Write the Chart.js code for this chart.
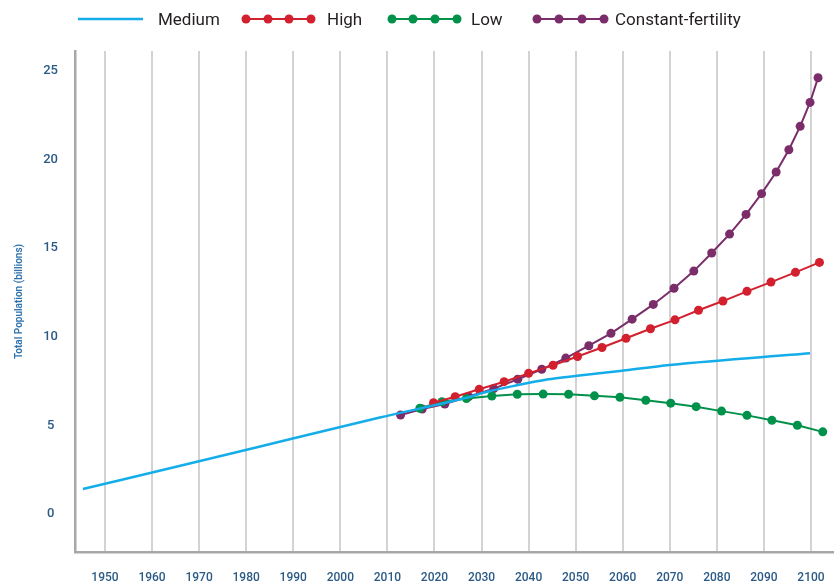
<!DOCTYPE html>
<html>
<head>
<meta charset="utf-8">
<script src="https://cdn.jsdelivr.net/npm/chart.js@4.4.1/dist/chart.umd.min.js"></script>
<style>
  html, body { margin: 0; padding: 0; background: #fff; }
  #wrap { width: 834px; height: 586px; }
</style>
</head>
<body>
<div id="wrap"><canvas id="myChart"></canvas></div>
<script>
// Seriernas namn och färger, i samma ordning som legenden.
const seriesNames = ['Medium', 'High', 'Low', 'Constant-fertility'];
const seriesColors = ['#14ade9', '#d3202f', '#00914a', '#7b2d6a'];

// Axlarnas tick-värden.
const xTicks = [1950, 1960, 1970, 1980, 1990, 2000, 2010, 2020, 2030, 2040, 2050, 2060, 2070, 2080, 2090, 2100];
const yTicks = [0, 5, 10, 15, 20, 25];

// Medium - en jämn linje utan punkter.
const mediumYears = [1945.3, 1970.2, 1989.9, 2008.4, 2026.1, 2031.8, 2036.7, 2043.9, 2050.3, 2059.4, 2070.0, 2099.8];
const mediumValues = [1.41, 2.99, 4.26, 5.45, 6.52, 6.94, 7.22, 7.59, 7.80, 8.07, 8.41, 9.07];

// High.
const highYears = [2019.8, 2024.4, 2029.5, 2034.8, 2040.0, 2045.2, 2050.4, 2055.6, 2060.7, 2065.9, 2071.1, 2076.1, 2081.3, 2086.4, 2091.5, 2096.7, 2101.8];
const highValues = [6.28, 6.62, 7.04, 7.47, 7.94, 8.40, 8.89, 9.40, 9.92, 10.46, 10.96, 11.50, 12.02, 12.57, 13.09, 13.64, 14.20];

// Low.
const lowYears = [2016.9, 2021.6, 2026.8, 2032.2, 2037.6, 2043.1, 2048.5, 2054.0, 2059.4, 2064.9, 2070.2, 2075.6, 2081.0, 2086.4, 2091.7, 2097.1, 2102.5];
const lowValues = [5.97, 6.34, 6.52, 6.66, 6.76, 6.77, 6.76, 6.67, 6.59, 6.42, 6.26, 6.06, 5.81, 5.57, 5.29, 5.01, 4.64];

// Constant-fertility.
const constantYears = [2012.8, 2017.4, 2022.2, 2027.3, 2032.6, 2037.7, 2042.8, 2047.9, 2052.8, 2057.5, 2062.0, 2066.5, 2070.9, 2075.1, 2078.9, 2082.7, 2086.2, 2089.5, 2092.6, 2095.3, 2097.7, 2099.8, 2101.5];
const constantValues = [5.59, 5.93, 6.21, 6.63, 7.08, 7.61, 8.17, 8.80, 9.50, 10.20, 11.00, 11.83, 12.74, 13.71, 14.73, 15.80, 16.91, 18.08, 19.30, 20.56, 21.88, 23.23, 24.62];

const ctx = document.querySelector('#myChart');

// Gör om två listor till {x, y}-punkter.
function toPoints(years, values) {
  return years.map((year, i) => ({x: year, y: values[i]}));
}

// Legendens placering (linjeprov, prickar och text).
const legendLayout = [
  {from: 78, to: 143, dots: [], textX: 158},
  {from: 246, to: 311, dots: [246, 268, 289, 311], textX: 327},
  {from: 392, to: 457, dots: [392, 413, 435, 457], textX: 471},
  {from: 537, to: 604, dots: [537, 559, 582, 604], textX: 615}
];

const topLegend = {
  id: 'topLegend',
  afterDraw(chart) {
    const c = chart.ctx;
    const y = 19;
    c.save();
    chart.data.datasets.forEach((ds, i) => {
      const item = legendLayout[i];
      c.strokeStyle = ds.borderColor;
      c.lineWidth = ds.borderWidth;
      c.beginPath();
      c.moveTo(item.from, y);
      c.lineTo(item.to, y);
      c.stroke();
      c.fillStyle = ds.borderColor;
      item.dots.forEach(dx => {
        c.beginPath();
        c.arc(dx, y, 4.5, 0, Math.PI * 2);
        c.fill();
      });
      c.fillStyle = '#231f20';
      c.font = '17px Roboto';
      c.textBaseline = 'alphabetic';
      c.textAlign = 'left';
      c.fillText(ds.label, item.textX, 25);
    });
    c.restore();
  }
};

function lineDataset(i, years, values, withPoints) {
  return {
    label: seriesNames[i],
    data: toPoints(years, values),
    borderColor: seriesColors[i],
    backgroundColor: seriesColors[i],
    borderWidth: withPoints ? 2 : 2.5,
    pointRadius: withPoints ? 4.5 : 0,
    pointBorderWidth: 0,
    pointBackgroundColor: seriesColors[i],
    cubicInterpolationMode: withPoints ? 'default' : 'monotone',
    tension: 0,
    fill: false
  };
}

new Chart(ctx, {
  type: 'line',
  data: {
    datasets: [
      lineDataset(0, mediumYears, mediumValues, false),
      lineDataset(1, highYears, highValues, true),
      lineDataset(2, lowYears, lowValues, true),
      lineDataset(3, constantYears, constantValues, true)
    ]
  },
  options: {
    responsive: true,
    maintainAspectRatio: false,
    animation: false,
    // Ingen automatisk marginal för punkterna, plottytan ska gå ut till kanten.
    layout: { autoPadding: false, padding: { top: 51, left: 0, right: 0, bottom: 0 } },
    plugins: {
      legend: { display: false },
      tooltip: { enabled: false }
    },
    scales: {
      x: {
        type: 'linear',
        min: 1943.63,
        max: 2104.89,
        afterBuildTicks: scale => { scale.ticks = xTicks.map(v => ({value: v})); },
        afterFit: scale => {
          scale.height = 34;
          scale.paddingLeft = 0;
          scale.paddingRight = 0;
        },
        grid: { color: '#d3d3d3', lineWidth: 2, drawTicks: false },
        border: { display: true, color: '#a7a7a7', width: 2.5 },
        ticks: {
          padding: 19,
          color: '#2a5a85',
          font: { family: 'Roboto', size: 12, weight: '500' },
          maxRotation: 0,
          autoSkip: false,
          callback: v => String(v)
        }
      },
      y: {
        min: -2.14,
        max: 26.13,
        afterBuildTicks: scale => { scale.ticks = yTicks.map(v => ({value: v})); },
        afterFit: scale => { scale.width = 75; },
        grid: { display: false, drawTicks: false },
        border: { display: true, color: '#a7a7a7', width: 2.5 },
        title: {
          display: true,
          text: 'Total Population (billions)',
          color: '#2e72ad',
          font: { family: 'Roboto', size: 10, weight: '600' },
          padding: { top: 13, bottom: 0 }
        },
        ticks: {
          padding: 17,
          crossAlign: 'center',
          color: '#2a5a85',
          font: { family: 'Roboto', size: 13, weight: '500' }
        }
      }
    }
  },
  plugins: [topLegend]
});
</script>
</body>
</html>
